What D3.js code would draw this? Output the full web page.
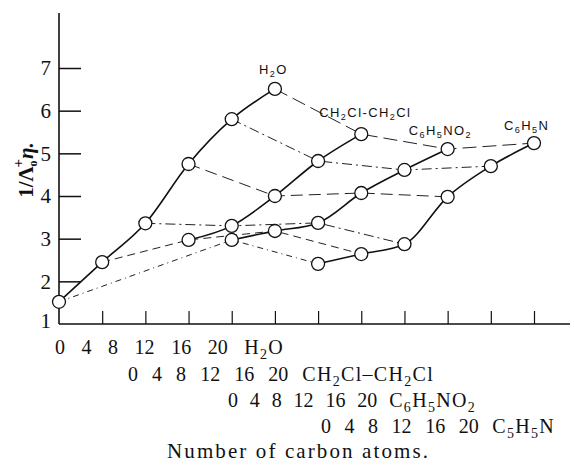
<!DOCTYPE html>
<html>
<head>
<meta charset="utf-8">
<script src="https://cdn.jsdelivr.net/npm/d3@7"></script>
<style>
  body { margin: 0; background: #fff; }
  svg { display: block; }
</style>
</head>
<body>
<svg id="chart" width="574" height="465"></svg>
<script>
// carbon numbers along each solvent's own scale
const carbons = [0, 4, 8, 12, 16, 20];
// each solvent's scale starts further right (in carbon units)
const solventShift = [0, 8, 16, 24];
const axisNames = ["H2O", "CH2Cl–CH2Cl", "C6H5NO2", "C5H5N"];
const curveNames = ["H2O", "CH2Cl-CH2Cl", "C6H5NO2", "C6H5N"];

// 1/(lambda0+ eta)
const h2o = [1.52, 2.45, 3.36, 4.75, 5.80, 6.51];
const dichloroethane = [null, 2.97, 3.30, 4.00, 4.82, 5.45];
const nitrobenzene = [2.97, 3.18, 3.37, 4.07, 4.61, 5.10];
const pyridine = [2.41, 2.64, 2.87, 3.98, 4.70, 5.24];
const yTicks = [1, 2, 3, 4, 5, 6, 7];

const series = [h2o, dichloroethane, nitrobenzene, pyridine];

const svg = d3.select("svg#chart");
const serif = "'Liberation Serif', 'Times New Roman', serif";
const sans = "'Liberation Sans', Arial, sans-serif";

const x = d3.scaleLinear().domain([0, 44]).range([59, 534]);
const y = d3.scaleLinear().domain([1, 7]).range([324, 68]);

// axes
svg.append("line")
    .attr("x1", x(0)).attr("x2", x(0))
    .attr("y1", y(1)).attr("y2", 13)
    .attr("stroke", "#111").attr("stroke-width", 1.6);
svg.append("line")
    .attr("x1", x(0)).attr("x2", 570)
    .attr("y1", y(1)).attr("y2", y(1))
    .attr("stroke", "#111").attr("stroke-width", 1.6);

const yAxis = d3.axisRight(y).tickValues(yTicks.slice(1)).tickSize(22).tickFormat("");
const gy = svg.append("g").attr("transform", `translate(${x(0)},0)`).call(yAxis);
gy.select(".domain").remove();
gy.selectAll(".tick line").attr("stroke", "#111").attr("stroke-width", 1.5);

const xAxis = d3.axisTop(x).tickValues(d3.range(4, 45, 4)).tickSize(13).tickFormat("");
const gx = svg.append("g").attr("transform", `translate(0,${y(1)})`).call(xAxis);
gx.select(".domain").remove();
gx.selectAll(".tick line").attr("stroke", "#111").attr("stroke-width", 1.2);

svg.selectAll("text.ylab")
    .data(yTicks)
    .enter().append("text")
    .attr("class", "ylab")
    .attr("x", 51)
    .attr("y", d => y(d) - (d == 1 ? 3 : 0))
    .attr("dy", "0.35em")
    .attr("text-anchor", "end")
    .attr("font-family", serif)
    .attr("font-size", 21)
    .attr("fill", "#111")
    .text(d => d);

// y axis title 1/Λ₀⁺η.
const yt = svg.append("text")
    .attr("transform", "translate(33,170) rotate(-90)")
    .attr("text-anchor", "middle")
    .attr("font-family", serif)
    .attr("font-size", 21)
    .attr("font-weight", "bold")
    .attr("fill", "#111");
yt.append("tspan").text("1/Λ");
yt.append("tspan").attr("font-size", 12).attr("dy", 4).text("o");
yt.append("tspan").attr("font-size", 15).attr("dx", -7).attr("dy", -14).text("+");
yt.append("tspan").attr("dy", 10).attr("font-style", "italic").text("η.");

// helper: formula with digits as subscripts
function formula(sel, str, size) {
    let low = false;
    for (const ch of str) {
        const isDigit = /[0-9]/.test(ch);
        const t = sel.append("tspan").text(ch);
        if (isDigit && !low) { t.attr("dy", size * 0.25).attr("font-size", size * 0.7); low = true; }
        else if (isDigit) { t.attr("font-size", size * 0.7); }
        else if (low) { t.attr("dy", -size * 0.25); low = false; }
    }
}

// dashed lines joining equal carbon numbers across solvents
const crossDash = ["6,4,1,4", "8,5", "10,4,2,4", "12,6", "10,4,2,4", "14,6"];
const lineGen = d3.line().x(d => x(d.c)).y(d => y(d.v));
carbons.forEach((c, i) => {
    const pts = series.map((s, k) => ({ c: solventShift[k] + c, v: s[i] })).filter(d => d.v != null);
    svg.append("path")
        .attr("d", lineGen(pts))
        .attr("fill", "none")
        .attr("stroke", "#222")
        .attr("stroke-width", 1)
        .attr("stroke-dasharray", crossDash[i]);
});

// solid curves per solvent
const curveGen = d3.line().x(d => x(d.c)).y(d => y(d.v)).curve(d3.curveMonotoneX);
series.forEach((s, k) => {
    const pts = carbons.map((c, i) => ({ c: solventShift[k] + c, v: s[i] })).filter(d => d.v != null);
    svg.append("path")
        .attr("d", curveGen(pts))
        .attr("fill", "none")
        .attr("stroke", "#111")
        .attr("stroke-width", 1.6);
});

// circles
const allPts = [];
series.forEach((s, k) => carbons.forEach((c, i) => {
    if (s[i] != null) allPts.push({ c: solventShift[k] + c, v: s[i] });
}));
svg.selectAll("circle.pt")
    .data(allPts)
    .enter().append("circle")
    .attr("class", "pt")
    .attr("cx", d => x(d.c))
    .attr("cy", d => y(d.v))
    .attr("r", 6.5)
    .attr("fill", "#fff")
    .attr("stroke", "#111")
    .attr("stroke-width", 1.3);

// curve labels placed near each solvent's last point
const labelOffset = [[-16, -15], [-42, -17], [-39, -14], [-30, -13]];
curveNames.forEach((name, k) => {
    const last = series[k][series[k].length - 1];
    const t = svg.append("text")
        .attr("x", x(solventShift[k] + 20) + labelOffset[k][0])
        .attr("y", y(last) + labelOffset[k][1])
        .attr("font-family", sans)
        .attr("font-size", 13)
        .attr("letter-spacing", 1.4)
        .attr("fill", "#111");
    formula(t, name, 13);
});

// carbon number rows under the axis
const rowStart = [55, 128, 228, 321];
const rowEnd = [284, 434, 476, 555];
const rowBase = [354, 381, 407, 433];
axisNames.forEach((name, k) => {
    const t = svg.append("text")
        .attr("x", rowStart[k])
        .attr("y", rowBase[k])
        .attr("font-family", serif)
        .attr("font-size", 20)
        .attr("fill", "#111")
        .style("white-space", "pre");
    t.append("tspan").text(carbons.join(" ") + " ");
    const f = t.append("tspan").attr("letter-spacing", 1.3);
    formula(f, name, 20);
    const natural = t.node().getComputedTextLength();
    t.attr("word-spacing", (rowEnd[k] - rowStart[k] - natural) / 6);
});

const title = svg.append("text")
    .attr("x", 167)
    .attr("y", 458)
    .attr("font-family", serif)
    .attr("font-size", 21)
    .attr("fill", "#111")
    .text("Number of carbon atoms.");
const tw = title.node().getComputedTextLength();
title.attr("letter-spacing", (428 - 167 - tw) / 22);
</script>
</body>
</html>
